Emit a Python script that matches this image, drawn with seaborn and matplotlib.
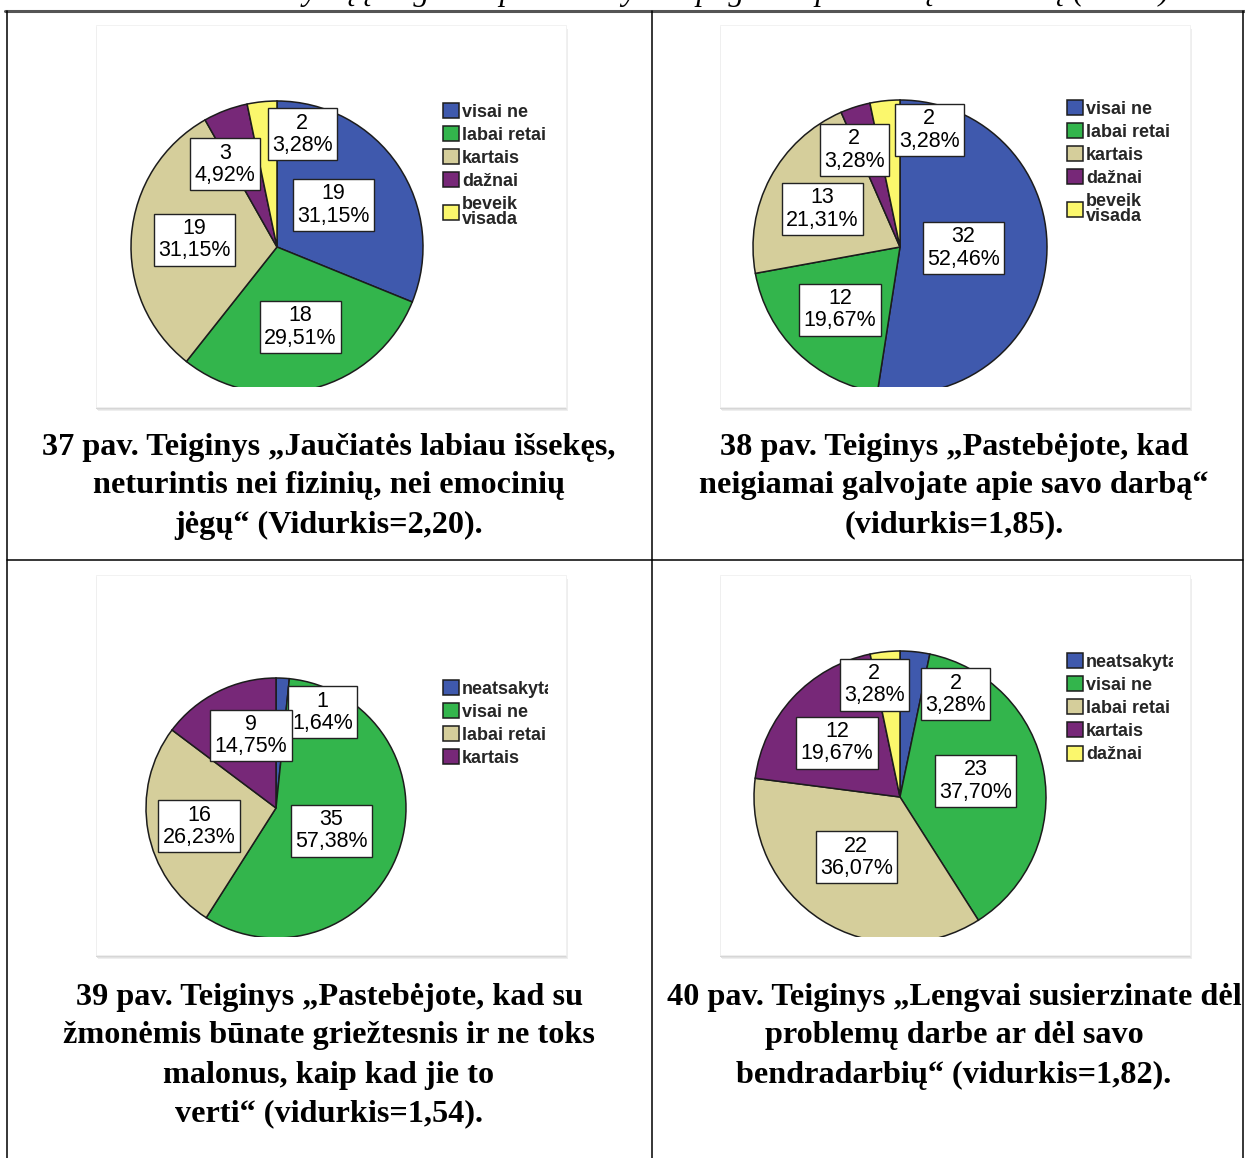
import numpy as np
import pandas as pd
import seaborn as sns
import matplotlib
matplotlib.use("Agg")
import matplotlib.pyplot as plt
from matplotlib.patches import Rectangle
from matplotlib.lines import Line2D
from matplotlib.transforms import Bbox, TransformedBbox
from matplotlib.font_manager import FontProperties

# ---------------- data ----------------
cats_a = ["visai ne", "labai retai", "kartais", "dažnai", "beveik\nvisada"]
cats_b = ["neatsakyta", "visai ne", "labai retai", "kartais", "dažnai"]

counts_37 = [19, 18, 19, 3, 2]
pct_37 = ["31,15%", "29,51%", "31,15%", "4,92%", "3,28%"]
counts_38 = [32, 12, 13, 2, 2]
pct_38 = ["52,46%", "19,67%", "21,31%", "3,28%", "3,28%"]
counts_39 = [1, 35, 16, 9]
pct_39 = ["1,64%", "57,38%", "26,23%", "14,75%"]
counts_40 = [2, 23, 22, 12, 2]
pct_40 = ["3,28%", "37,70%", "36,07%", "19,67%", "3,28%"]

caption_37 = ["37 pav. Teiginys „Jaučiatės labiau išsekęs,",
              "neturintis nei fizinių, nei emocinių",
              "jėgų“ (Vidurkis=2,20)."]
caption_38 = ["38 pav. Teiginys „Pastebėjote, kad",
              "neigiamai galvojate apie savo darbą“",
              "(vidurkis=1,85)."]
caption_39 = ["39 pav. Teiginys „Pastebėjote, kad su",
              "žmonėmis būnate griežtesnis ir ne toks",
              "malonus, kaip kad jie to",
              "verti“ (vidurkis=1,54)."]
caption_40 = ["40 pav. Teiginys „Lengvai susierzinate dėl",
              "problemų darbe ar dėl savo",
              "bendradarbių“ (vidurkis=1,82)."]
top_text = "Atsakymų į teiginius pasiskirstymas pagal respondentų vertinimą (N=61)."

palette = sns.color_palette(["#3F59AD", "#33B54C", "#D5CE9B", "#772878", "#FBF76C"])

# ---------------- style ----------------
sns.set_theme(style="white")
plt.rcParams['font.family'] = ['Liberation Sans', 'DejaVu Sans']

W, H = 1245, 1158
fig = plt.figure(figsize=(W / 100, H / 100), dpi=100)
fig.patch.set_facecolor("white")


def fx(x):
    return x / W


def fy(y):
    return 1 - y / H


panels = [
    dict(counts=counts_37, pcts=pct_37, cats=cats_a, box=(96, 25, 566, 407), c=(277, 247), r=146, clip=387,
         leg=(443, 103), legclip=None,
         lr=[0.48, 0.57, 0.57, 0.67, 0.79], ln=[3, 1.5, -0.5, 11.5, -18.5],
         cap=caption_37, capx=329, capy=447),
    dict(counts=counts_38, pcts=pct_38, cats=cats_a, box=(720, 25, 1190, 407), c=(900, 247), r=147, clip=387,
         leg=(1067, 100), legclip=None,
         lr=[0.43, 0.59, 0.59, 0.73, 0.82], ln=[3.5, 0.5, 2, 7.5, -20],
         cap=caption_38, capx=954, capy=447),
    dict(counts=counts_39, pcts=pct_39, cats=cats_b[:4], box=(96, 575, 566, 955), c=(276, 808), r=130, clip=937,
         leg=(443, 680), legclip=548,
         lr=[0.82, 0.46, 0.61, 0.59], ln=[-23, -3, 3, -7.5],
         cap=caption_39, capx=329, capy=997),
    dict(counts=counts_40, pcts=pct_40, cats=cats_b, box=(720, 575, 1190, 955), c=(900, 797), r=146, clip=937,
         leg=(1067, 653), legclip=1173,
         lr=[0.80, 0.53, 0.51, 0.57, 0.79], ln=[-22.5, 1.5, -3.5, 2, 7],
         cap=caption_40, capx=954, capy=997),
]

leg_font = FontProperties(family="Liberation Sans", weight="bold", size=13)
lab_font = FontProperties(family="Liberation Sans", size=15.5)
cap_font = FontProperties(family="Liberation Serif", weight="bold", size=23.2)

for p in panels:
    x0, y0, x1, y1 = p["box"]
    for k, col in enumerate(["#eeeeee", "#e2e2e2", "#d6d6d6"]):
        off = 4 - k
        fig.add_artist(Rectangle((fx(x0 + off - 2), fy(y1 + off)), (x1 - x0) / W, (y1 - y0) / H,
                                 transform=fig.transFigure, facecolor=col, edgecolor="none", zorder=0))
    fig.add_artist(Rectangle((fx(x0), fy(y1)), (x1 - x0) / W, (y1 - y0) / H,
                             transform=fig.transFigure, facecolor="white", edgecolor="#f0f0f0",
                             linewidth=0.6, zorder=0.5))

    cx, cy = p["c"]
    r = p["r"]
    clip = p["clip"]
    ax = fig.add_axes([fx(x0), fy(clip), (x1 - x0) / W, (clip - y0) / H])
    ax.set_zorder(2)
    n = len(p["counts"])
    wedges, _ = ax.pie(p["counts"], colors=palette[:n], startangle=90, counterclock=False,
                       wedgeprops=dict(edgecolor="#1c1c1c", linewidth=1.1))
    for w in wedges:
        w.set_clip_on(True)
        w.set_clip_box(ax.bbox)
    ax.set_aspect("auto")
    ax.set_xlim((x0 - cx) / r, (x1 - cx) / r)
    ax.set_ylim((cy - clip) / r, (cy - y0) / r)
    ax.axis("off")

    for w, cnt, pc, rr, nd in zip(wedges, p["counts"], p["pcts"], p["lr"], p["ln"]):
        mid = np.deg2rad((w.theta1 + w.theta2) / 2 + nd)
        ax.text(rr * np.cos(mid), rr * np.sin(mid), f"{cnt}\n{pc}", ha="center", va="center",
                fontproperties=lab_font, linespacing=1.08, color="black", zorder=5,
                bbox=dict(boxstyle="square,pad=0.2", facecolor="white", edgecolor="#222222", linewidth=1.0))

    lx, ly = p["leg"]
    leg = ax.legend(wedges, p["cats"], loc="upper left", bbox_to_anchor=(fx(lx), fy(ly)),
                    bbox_transform=fig.transFigure, frameon=False, prop=leg_font,
                    handlelength=0.9, handleheight=0.9, handletextpad=0.15,
                    labelspacing=0.3, borderpad=0, borderaxespad=0)
    for t in leg.get_texts():
        t.set_linespacing(0.9)
    if p["legclip"] is not None:
        cb = TransformedBbox(Bbox.from_extents(0, 0, fx(p["legclip"]), 1), fig.transFigure)
        for t in leg.get_texts():
            t.set_clip_on(True)
            t.set_clip_box(cb)

    for i, line in enumerate(p["cap"]):
        fig.text(fx(p["capx"]), fy(p["capy"] + 39 * i), line, ha="center", va="center",
                 fontproperties=cap_font, color="black")

# top line of text, cut off by the page edge as in the source
fig.text(fx(705), fy(0), top_text, ha="center", va="baseline", family="Liberation Serif",
         style="italic", size=23, color="black")

# table lines
fig.add_artist(Line2D([fx(5), fx(1245)], [fy(11), fy(11)], transform=fig.transFigure,
                      color="#555555", linewidth=2.2))
for x in [7, 652, 1243]:
    fig.add_artist(Line2D([fx(x), fx(x)], [fy(11), fy(1158)], transform=fig.transFigure,
                          color="black", linewidth=1.1))
fig.add_artist(Line2D([fx(7), fx(1243)], [fy(560), fy(560)], transform=fig.transFigure,
                      color="black", linewidth=1.1))

fig.savefig("out.png", dpi=100, facecolor="white")
